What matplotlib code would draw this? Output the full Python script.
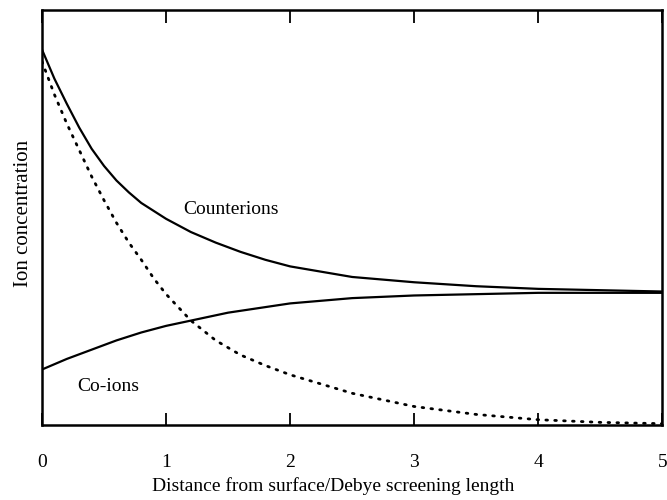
"""Ion concentration profiles near a charged surface (Gouy-Chapman style sketch)."""

import matplotlib
matplotlib.use("Agg")
import matplotlib.pyplot as plt

plt.rcParams["font.family"] = ["Liberation Serif", "DejaVu Serif"]

# ---- Data (bulk concentration = 1) ----

x_counter = [0, 0.1, 0.2, 0.3, 0.4, 0.5, 0.6, 0.7, 0.8, 0.9, 1.0, 1.2, 1.4,
             1.6, 1.8, 2.0, 2.5, 3.0, 3.5, 4.0, 4.5, 5.0]
counterions = [2.84, 2.62, 2.43, 2.25, 2.09, 1.96, 1.85, 1.76, 1.68, 1.62,
               1.56, 1.46, 1.38, 1.31, 1.25, 1.20, 1.12, 1.08, 1.05, 1.03,
               1.02, 1.01]

x_coion = [0, 0.2, 0.4, 0.6, 0.8, 1.0, 1.2, 1.5, 2.0, 2.5, 3.0, 4.0, 5.0]
coions = [0.42, 0.50, 0.57, 0.64, 0.70, 0.75, 0.79, 0.85, 0.92, 0.96,
          0.98, 1.00, 1.00]

x_dotted = [0, 0.1, 0.2, 0.3, 0.4, 0.5, 0.6, 0.7, 0.8, 0.9, 1.0, 1.2, 1.4,
            1.6, 1.8, 2.0, 2.5, 3.0, 3.5, 4.0, 4.5, 5.0]
dotted = [2.75, 2.50, 2.28, 2.08, 1.88, 1.70, 1.53, 1.38, 1.25, 1.11, 0.99,
          0.79, 0.64, 0.53, 0.45, 0.38, 0.24, 0.14, 0.08, 0.04, 0.02, 0.01]

xticks = [0, 1, 2, 3, 4, 5]


def main():
    fig = plt.figure(figsize=(6.67, 5.0), dpi=100)
    ax = fig.add_axes([0.063, 0.15, 0.93, 0.83])

    ax.plot(x_counter, counterions, color="black", lw=1.6)
    ax.plot(x_coion, coions, color="black", lw=1.6)
    ax.plot(x_dotted, dotted, color="black", lw=2.0,
            linestyle=(0, (0.6, 2.6)), dash_capstyle="round")

    ax.text(1.14, 1.63, "Counterions", fontsize=14, va="center", ha="left")
    ax.text(0.28, 0.29, "Co-ions", fontsize=14, va="center", ha="left")

    ax.set_xlim(0, 5)
    ax.set_ylim(0, 3.14)
    ax.set_xticks(xticks)
    ax.set_xticklabels([str(t) for t in xticks], fontsize=14)
    ax.set_yticks([])
    ax.tick_params(axis="x", direction="in", length=9, width=1.3,
                   top=True, pad=21)
    for s in ax.spines.values():
        s.set_linewidth(1.8)

    ax.set_xlabel("Distance from surface/Debye screening length", fontsize=14)
    ax.xaxis.set_label_coords(0.47, -0.125)
    ax.set_ylabel("Ion concentration", fontsize=15)
    ax.yaxis.set_label_coords(-0.015, 0.51)

    fig.savefig("out.png", dpi=100)


if __name__ == "__main__":
    main()
